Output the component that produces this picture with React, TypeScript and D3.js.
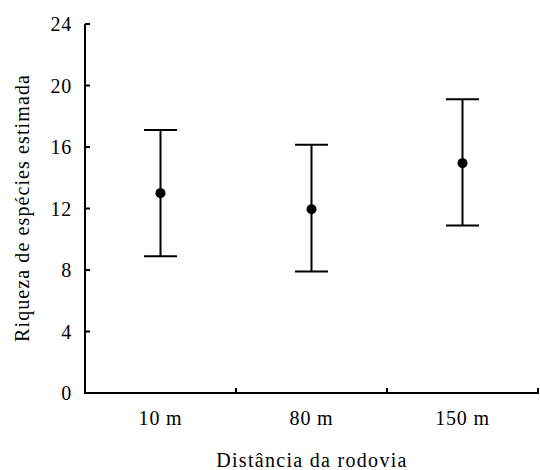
import React, { useRef, useEffect } from 'react'
import * as d3 from 'd3'

const categories = ['10 m', '80 m', '150 m']
const means = [13, 11.95, 14.95]
const lower = [8.9, 7.9, 10.9]
const upper = [17.1, 16.15, 19.1]
const yTicks = [0, 4, 8, 12, 16, 20, 24]

const App = () => {
  const ref = useRef<SVGSVGElement>(null)

  useEffect(() => {
    const svg = d3.select(ref.current)
    svg.selectAll('*').remove()

    const width = 540
    const height = 470
    const font = 'Liberation Serif, Times New Roman, serif'

    const x = d3.scaleBand().domain(categories).range([85, 538]).padding(0)
    const y = d3.scaleLinear().domain([0, 24]).range([393, 24])

    svg.attr('width', width).attr('height', height)

    const data = categories.map((c, i) => ({ c, m: means[i], lo: lower[i], hi: upper[i] }))

    // y axis
    svg.append('line')
      .attr('x1', x.range()[0]).attr('x2', x.range()[0])
      .attr('y1', y(24)).attr('y2', y(0))
      .attr('stroke', 'black').attr('stroke-width', 2)

    svg.selectAll('.ytick')
      .data(yTicks)
      .enter()
      .append('line')
      .attr('x1', 85).attr('x2', 90)
      .attr('y1', d => y(d)).attr('y2', d => y(d))
      .attr('stroke', 'black').attr('stroke-width', 2)

    svg.selectAll('.ylab')
      .data(yTicks)
      .enter()
      .append('text')
      .attr('x', 72)
      .attr('y', d => y(d))
      .attr('dy', '0.35em')
      .attr('text-anchor', 'end')
      .attr('font-family', font)
      .attr('font-size', 20)
      .attr('letter-spacing', 0.8)
      .text(d => d)

    // x axis
    svg.append('line')
      .attr('x1', 84).attr('x2', 539)
      .attr('y1', y(0)).attr('y2', y(0))
      .attr('stroke', 'black').attr('stroke-width', 2)

    const bounds = categories.map(c => x(c)!).concat([x.range()[1]])
    svg.selectAll('.xtick')
      .data(bounds)
      .enter()
      .append('line')
      .attr('x1', d => d).attr('x2', d => d)
      .attr('y1', y(0)).attr('y2', y(0) - 5)
      .attr('stroke', 'black').attr('stroke-width', 2)

    svg.selectAll('.xlab')
      .data(categories)
      .enter()
      .append('text')
      .attr('x', d => x(d)! + x.bandwidth() / 2)
      .attr('y', 425)
      .attr('text-anchor', 'middle')
      .attr('font-family', font)
      .attr('font-size', 20)
      .attr('letter-spacing', 0.8)
      .text(d => d)

    // error bars
    const g = svg.selectAll('.bar')
      .data(data)
      .enter()
      .append('g')
      .attr('transform', d => `translate(${x(d.c)! + x.bandwidth() / 2},0)`)

    g.append('line')
      .attr('x1', 0).attr('x2', 0)
      .attr('y1', d => y(d.lo)).attr('y2', d => y(d.hi))
      .attr('stroke', 'black').attr('stroke-width', 2)

    g.append('line')
      .attr('x1', -16.5).attr('x2', 16.5)
      .attr('y1', d => y(d.hi)).attr('y2', d => y(d.hi))
      .attr('stroke', 'black').attr('stroke-width', 2)

    g.append('line')
      .attr('x1', -16.5).attr('x2', 16.5)
      .attr('y1', d => y(d.lo)).attr('y2', d => y(d.lo))
      .attr('stroke', 'black').attr('stroke-width', 2)

    g.append('circle')
      .attr('cx', 0)
      .attr('cy', d => y(d.m))
      .attr('r', 5)
      .attr('fill', 'black')

    // titles
    svg.append('text')
      .attr('x', 312)
      .attr('y', 467)
      .attr('text-anchor', 'middle')
      .attr('font-family', font)
      .attr('font-size', 20)
      .attr('letter-spacing', 1.3)
      .text('Distância da rodovia')

    svg.append('text')
      .attr('transform', `translate(29,${208}) rotate(-90)`)
      .attr('text-anchor', 'middle')
      .attr('font-family', font)
      .attr('font-size', 20)
      .attr('letter-spacing', 1.1)
      .text('Riqueza de espécies estimada')
  }, [])

  return (
    <svg ref={ref} style={{ position: 'absolute', left: 0, top: 0, background: 'white' }} />
  )
}

export default App
